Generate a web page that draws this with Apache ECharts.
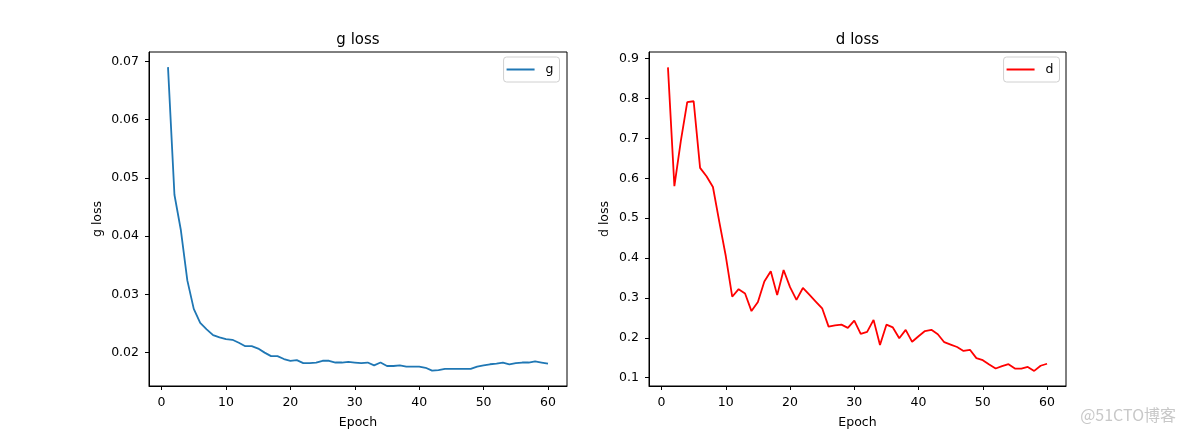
<!DOCTYPE html>
<html><head><meta charset="utf-8">
<script src="https://cdn.jsdelivr.net/npm/echarts@6/dist/echarts.min.js"></script>
<style>html,body{margin:0;padding:0;background:#fff}#c{width:1184px;height:434px}</style>
</head><body><div id="c"></div>
<script>
const epochs = [1,2,3,4,5,6,7,8,9,10,11,12,13,14,15,16,17,18,19,20,21,22,23,24,25,26,27,28,29,30,
  31,32,33,34,35,36,37,38,39,40,41,42,43,44,45,46,47,48,49,50,51,52,53,54,55,56,57,58,59,60];
const gLoss = [0.0690,0.0471,0.0410,0.0324,0.0275,0.0251,0.0240,0.0230,0.0226,0.0223,
  0.0222,0.0217,0.0211,0.0211,0.0207,0.0200,0.0194,0.0194,0.0189,0.0186,
  0.0187,0.0182,0.0182,0.0183,0.0186,0.0186,0.0183,0.0183,0.0184,0.0183,
  0.0182,0.0183,0.0178,0.0183,0.0177,0.0177,0.0178,0.0176,0.0176,0.0176,
  0.0174,0.0169,0.0170,0.0172,0.0172,0.0172,0.0172,0.0172,0.0176,0.0178,
  0.0180,0.0181,0.0183,0.0180,0.0182,0.0183,0.0183,0.0185,0.0183,0.0181];
const dLoss = [0.878,0.580,0.693,0.791,0.793,0.626,0.605,0.578,0.490,0.405,
  0.303,0.322,0.311,0.267,0.290,0.341,0.367,0.307,0.370,0.327,
  0.295,0.325,0.308,0.291,0.274,0.228,0.231,0.233,0.225,0.243,
  0.210,0.215,0.245,0.182,0.233,0.226,0.199,0.220,0.190,0.204,
  0.217,0.220,0.209,0.189,0.183,0.177,0.167,0.170,0.149,0.144,
  0.133,0.123,0.129,0.134,0.123,0.123,0.127,0.117,0.130,0.135];
const xTicks = [0,10,20,30,40,50,60];
const gTicks = [0.02,0.03,0.04,0.05,0.06,0.07];
const dTicks = [0.1,0.2,0.3,0.4,0.5,0.6,0.7,0.8,0.9];

const FONT = 'DejaVu Sans';
const chart = echarts.init(document.getElementById('c'), null, {renderer:'canvas'});

function xAxisCfg(idx){
  return {
    type:'value', gridIndex:idx, min:-1.95, max:62.95,
    name:'Epoch', nameLocation:'middle', nameGap:30,
    nameTextStyle:{fontFamily:FONT, fontSize:12.5, color:'#000'},
    axisLine:{show:true, onZero:false, lineStyle:{color:'#000', width:1}},
    axisTick:{show:true, inside:false, length:4, customValues:xTicks, lineStyle:{color:'#000', width:1}},
    axisLabel:{show:true, customValues:xTicks, margin:10, fontFamily:FONT, fontSize:12.5, color:'#000',
      showMinLabel:true, showMaxLabel:true, formatter:v=>String(Math.round(v))},
    splitLine:{show:false}
  };
}
function yAxisCfg(idx, name, mn, mx, ticks, dec, gap){
  return {
    type:'value', gridIndex:idx, min:mn, max:mx,
    name:name, nameLocation:'middle', nameGap:gap,
    nameTextStyle:{fontFamily:FONT, fontSize:12.5, color:'#000'},
    axisLine:{show:true, onZero:false, lineStyle:{color:'#000', width:1}},
    axisTick:{show:true, inside:false, length:4, customValues:ticks, lineStyle:{color:'#000', width:1}},
    axisLabel:{show:true, customValues:ticks, margin:10, fontFamily:FONT, fontSize:12.5, color:'#000',
      formatter:v=>v.toFixed(dec)},
    splitLine:{show:false}
  };
}
function legendCfg(name, right){
  return {
    data:[name], right:right, top:57, orient:'horizontal',
    icon:'rect', itemWidth:28, itemHeight:2, padding:[6,6,6,3],
    borderColor:'#d0d0d0', borderWidth:1, borderRadius:3, backgroundColor:'#fff',
    textStyle:{fontFamily:FONT, fontSize:12.5, color:'#000', padding:[0,0,0,6]}
  };
}

const option = {
  animation:false,
  backgroundColor:'#fff',
  title:[
    {text:'g loss', left:358, top:33, textAlign:'center', padding:0,
      textStyle:{fontFamily:FONT, fontSize:15, fontWeight:'normal', color:'#000'}},
    {text:'d loss', left:857.5, top:33, textAlign:'center', padding:0,
      textStyle:{fontFamily:FONT, fontSize:15, fontWeight:'normal', color:'#000'}}
  ],
  grid:[
    {left:149, top:52, width:418, height:334, show:true, borderColor:'#000', borderWidth:1, backgroundColor:'transparent', outerBoundsMode:'none'},
    {left:649, top:52, width:417, height:334, show:true, borderColor:'#000', borderWidth:1, backgroundColor:'transparent', outerBoundsMode:'none'}
  ],
  xAxis:[xAxisCfg(0), xAxisCfg(1)],
  yAxis:[
    yAxisCfg(0, 'g loss', 0.01427, 0.0716, gTicks, 2, 45),
    yAxisCfg(1, 'd loss', 0.0792, 0.9165, dTicks, 1, 38)
  ],
  legend:[legendCfg('g', 624.5), legendCfg('d', 124.5)],
  series:[
    {name:'g', type:'line', xAxisIndex:0, yAxisIndex:0, symbol:'none',
      lineStyle:{color:'#1f77b4', width:1.8}, itemStyle:{color:'#1f77b4'},
      data:epochs.map((e,i)=>[e,gLoss[i]])},
    {name:'d', type:'line', xAxisIndex:1, yAxisIndex:1, symbol:'none',
      lineStyle:{color:'#ff0000', width:1.8}, itemStyle:{color:'#ff0000'},
      data:epochs.map((e,i)=>[e,dLoss[i]])}
  ],
  graphic:[
    {type:'text', right:8, top:407, style:{text:'@51CTO博客', fill:'#c8c8c8',
      font:'16px "Noto Sans CJK SC", "DejaVu Sans", sans-serif'}}
  ]
};
chart.setOption(option);
</script>
</body></html>
